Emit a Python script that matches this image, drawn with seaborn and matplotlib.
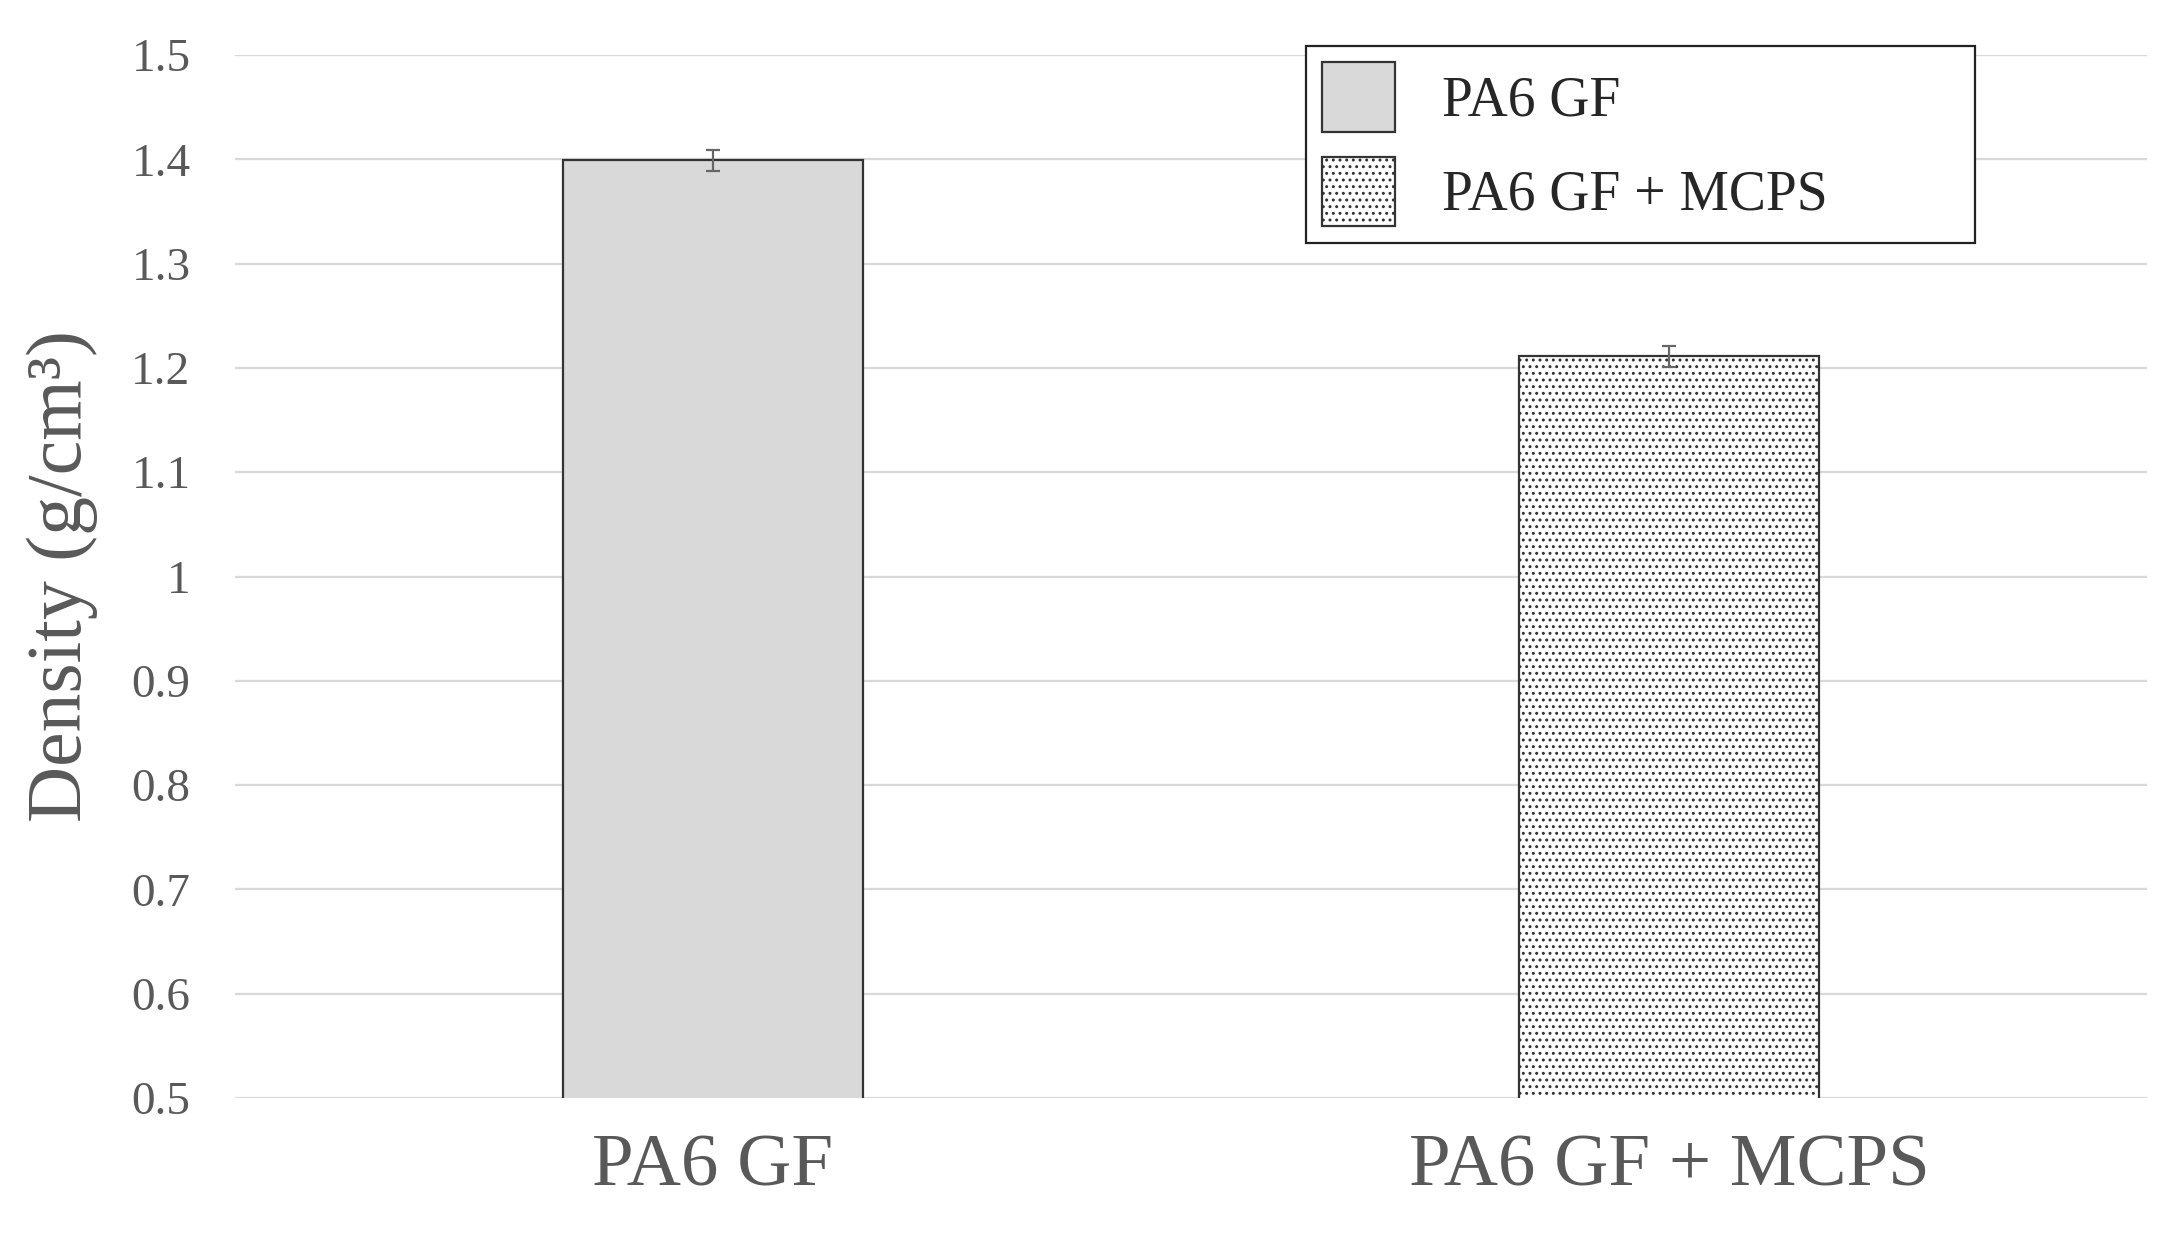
import numpy as np
import pandas as pd
import seaborn as sns
import matplotlib.pyplot as plt
from matplotlib.ticker import FuncFormatter

samples = ["PA6 GF", "PA6 GF + MCPS"]
density = [1.399, 1.211]
density_err = [0.010, 0.010]
yticks = [0.5, 0.6, 0.7, 0.8, 0.9, 1.0, 1.1, 1.2, 1.3, 1.4, 1.5]

sns.set_theme(style="white")
plt.rcParams["font.family"] = ["Liberation Serif", "DejaVu Serif"]
plt.rcParams["hatch.color"] = "#555555"
plt.rcParams["hatch.linewidth"] = 0.6

gray = "#595959"

fig = plt.figure(figsize=(10.86, 6.17), dpi=200)
ax = fig.add_axes([0.1082, 0.1102, 0.8803, 0.8452])

df = pd.DataFrame({"sample": samples, "density": density})
sns.barplot(data=df, x="sample", y="density", hue="sample",
            palette=["#d9d9d9", "white"], edgecolor="#333333", linewidth=0.8,
            width=0.313, legend=False, ax=ax, zorder=3)
ax.patches[1].set_hatch(".....")

ax.errorbar(x=samples, y=density, yerr=density_err, fmt="none",
            ecolor="#666666", elinewidth=0.8, capsize=2.6, capthick=0.8, zorder=4)

ax.set_ylim(0.5, 1.5)
ax.set_xlim(-0.5, 1.5)
ax.set_yticks(yticks)
ax.yaxis.set_major_formatter(FuncFormatter(lambda v, p: f"{v:g}"))
ax.grid(axis="y", color="#d9d9d9", linewidth=0.8, zorder=0)
ax.set_axisbelow(True)
for s in ax.spines.values():
    s.set_visible(False)

ax.tick_params(axis="y", labelsize=17, labelcolor=gray, length=0, pad=16)
ax.tick_params(axis="x", labelsize=27, labelcolor=gray, length=0, pad=13)
ax.set_xlabel("")
ax.set_ylabel("Density (g/cm³)", fontsize=28, color=gray, labelpad=12)

leg = ax.legend(handles=ax.patches[:2], labels=samples, loc="upper left",
                bbox_to_anchor=(0.560, 0.815, 0.350, 0.194), mode="expand",
                fontsize=20, frameon=True, fancybox=False, framealpha=1,
                edgecolor="#222222", borderpad=0.3, borderaxespad=0,
                handlelength=1.3, handleheight=1.55, handletextpad=0.85,
                labelspacing=0.45)
leg.get_frame().set_linewidth(0.8)

fig.savefig("out.png", dpi=200)
